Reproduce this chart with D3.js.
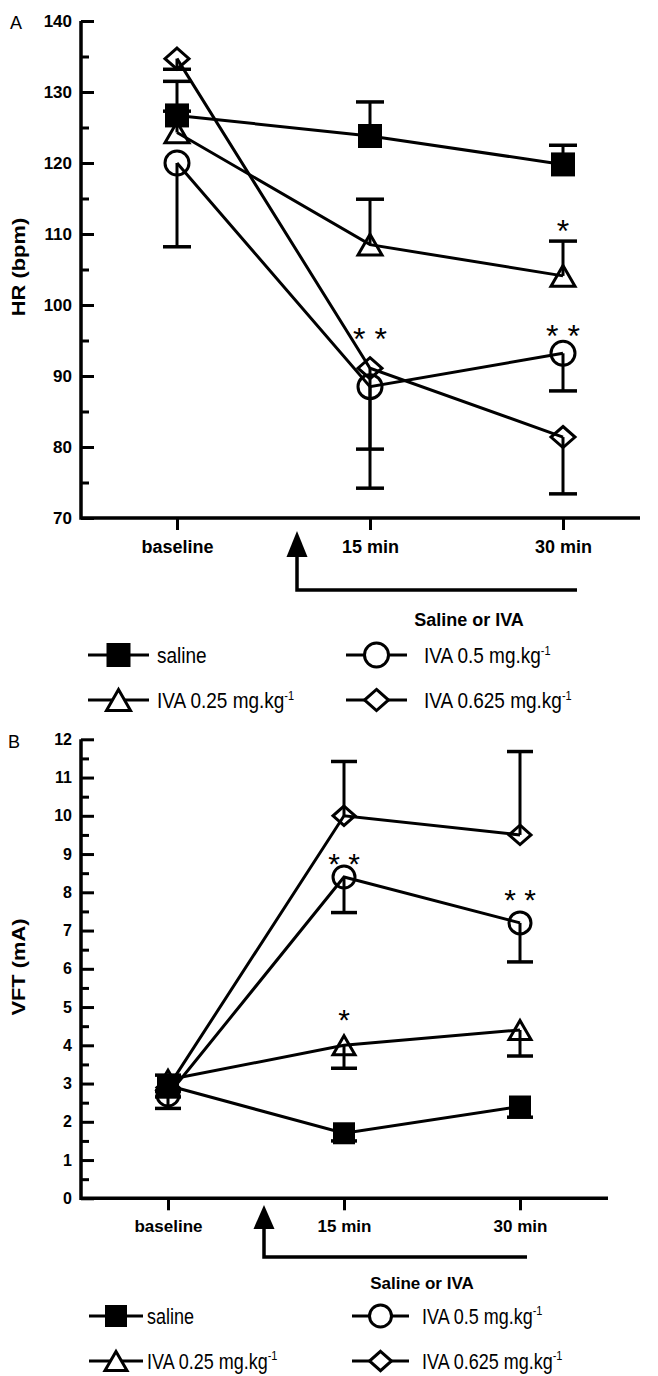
<!DOCTYPE html>
<html>
<head>
<meta charset="utf-8">
<script src="https://cdn.jsdelivr.net/npm/d3@7"></script>
<style>
  body { margin: 0; background: #fff; }
  svg text { font-family: "Liberation Sans", Arial, sans-serif; fill: #000; }
</style>
</head>
<body>
<div id="chart"></div>
<script>
const categories = ["baseline", "15 min", "30 min"];
const seriesNames = ["saline", "IVA 0.25 mg.kg", "IVA 0.5 mg.kg", "IVA 0.625 mg.kg"];

// A: heart rate (bpm)
const hrTicks = [70, 80, 90, 100, 110, 120, 130, 140];
const hrSaline = [126.7, 123.8, 119.8];
const hrSalineErr = [4.8, 4.8, 2.7];
const hrIva025 = [124.3, 108.5, 104.1];
const hrIva025Err = [3.0, 6.4, 4.9];
const hrIva05 = [120.0, 88.5, 93.2];
const hrIva05Err = [11.8, 8.8, 5.3];
const hrIva0625 = [134.7, 91.1, 81.4];
const hrIva0625Err = [1.5, 16.9, 8.0];
const hrStars = [["15 min", 96.1, "* *"], ["30 min", 96.6, "* *"], ["30 min", 111.4, "*"]];

// B: VFT (mA)
const vftTicks = [0, 1, 2, 3, 4, 5, 6, 7, 8, 9, 10, 11, 12];
const vftSaline = [2.95, 1.7, 2.4];
const vftSalineErr = [0.3, 0.2, 0.28];
const vftIva025 = [3.1, 4.0, 4.4];
const vftIva025Err = [0.3, 0.6, 0.68];
const vftIva05 = [2.7, 8.4, 7.2];
const vftIva05Err = [0.35, 0.93, 1.02];
const vftIva0625 = [2.9, 10.0, 9.5];
const vftIva0625Err = [0.32, 1.42, 2.18];
const vftStars = [["15 min", 8.91, "* *"], ["30 min", 7.97, "* *"], ["15 min", 4.84, "*"]];

// marker shapes, size = full width squared
const shapeSquare = { draw(c, s) { const h = Math.sqrt(s) / 2; c.rect(-h, -h, 2 * h, 2 * h); } };
const shapeCircle = { draw(c, s) { const r = Math.sqrt(s) / 2; c.moveTo(r, 0); c.arc(0, 0, r, 0, 2 * Math.PI); } };
const shapeTriangle = { draw(c, s) {
  const a = Math.sqrt(s), h = a * Math.sqrt(3) / 2;
  c.moveTo(0, -h / 2); c.lineTo(a / 2, h / 2); c.lineTo(-a / 2, h / 2); c.closePath();
} };
const shapeDiamond = { draw(c, s) {
  const w = Math.sqrt(s) / 2, h = w * 0.88;
  c.moveTo(0, -h); c.lineTo(w, 0); c.lineTo(0, h); c.lineTo(-w, 0); c.closePath();
} };
const shapes = [shapeSquare, shapeTriangle, shapeCircle, shapeDiamond];
const filled = [true, false, false, false];

const svg = d3.select("#chart").append("svg")
  .attr("width", 658).attr("height", 1376);

const panels = [
  {
    label: "A", title: "HR (bpm)", ticks: hrTicks,
    values: [hrSaline, hrIva025, hrIva05, hrIva0625],
    errors: [hrSalineErr, hrIva025Err, hrIva05Err, hrIva0625Err],
    errDir: [1, 1, -1, -1], stars: hrStars,
    yRange: [518, 21], xRange: [177, 563], axisX: 81, axisEnd: 640,
    tickFont: 17, catFont: 18, capW: 28, mark: 24, starFont: 32,
    arrowX: 297, arrowTop: 531, headH: 26, arrowBottom: 590, arrowEnd: 577,
    noteX: 469, noteY: 626, noteFont: 18,
    legendRows: [655, 700], legendCols: [[88, 149, 157], [346, 407, 424]], legendFont: 19,
    titleX: 19, titleY: 267, labelX: 10, labelY: 29
  },
  {
    label: "B", title: "VFT (mA)", ticks: vftTicks,
    values: [vftSaline, vftIva025, vftIva05, vftIva0625],
    errors: [vftSalineErr, vftIva025Err, vftIva05Err, vftIva0625Err],
    errDir: [-1, -1, -1, 1], stars: vftStars,
    yRange: [1198.3, 739.3], xRange: [168, 520], axisX: 81, axisEnd: 608,
    tickFont: 16, catFont: 17, capW: 26, mark: 22, starFont: 30,
    arrowX: 264, arrowTop: 1205, headH: 24, arrowBottom: 1257, arrowEnd: 527,
    noteX: 422, noteY: 1289, noteFont: 17,
    legendRows: [1316, 1361], legendCols: [[89, 143, 147], [352, 409, 422]], legendFont: 18,
    titleX: 19, titleY: 967, labelX: 8, labelY: 748
  }
];

function drawPanel(p) {
  const g = svg.append("g");
  const x = d3.scalePoint().domain(categories).range(p.xRange);
  const y = d3.scaleLinear().domain(d3.extent(p.ticks)).range(p.yRange);
  const minor = d3.pairs(p.ticks).map(([a, b]) => (a + b) / 2);

  // y axis: minor ticks then major
  g.append("g").attr("transform", `translate(${p.axisX},0)`)
    .call(d3.axisLeft(y).tickValues(minor).tickSize(-8).tickFormat(""))
    .call(a => a.select(".domain").remove())
    .selectAll("line").attr("stroke-width", 3);
  g.append("g").attr("transform", `translate(${p.axisX},0)`)
    .call(d3.axisLeft(y).tickValues(p.ticks).tickSize(-13).tickPadding(9).tickFormat(d3.format("d")))
    .call(a => a.select(".domain").remove())
    .attr("font-family", "Liberation Sans, Arial, sans-serif")
    .attr("font-size", p.tickFont).attr("font-weight", "bold")
    .selectAll("line").attr("stroke-width", 3);

  // x axis
  g.append("g").attr("transform", `translate(0,${y(p.ticks[0])})`)
    .call(d3.axisBottom(x).tickSize(12).tickPadding(10))
    .call(a => a.select(".domain").remove())
    .attr("font-family", "Liberation Sans, Arial, sans-serif")
    .attr("font-size", p.catFont).attr("font-weight", "bold")
    .selectAll("line").attr("stroke-width", 3);

  g.append("path")
    .attr("d", `M${p.axisX},${y(p.ticks[p.ticks.length - 1])}V${y(p.ticks[0])}H${p.axisEnd}`)
    .attr("fill", "none").attr("stroke", "#000").attr("stroke-width", 3.5);

  // axis title (stretched along its length like the original) and panel letter
  g.append("text")
    .attr("transform", `translate(${p.titleX},${p.titleY}) rotate(-90) scale(1.25,1)`)
    .attr("text-anchor", "middle").attr("dy", "0.35em")
    .attr("font-size", 17.5).attr("font-weight", "bold")
    .text(p.title);
  g.append("text").attr("x", p.labelX).attr("y", p.labelY)
    .attr("font-size", 18).text(p.label);

  // series lines
  const line = d3.line().x((d, i) => x(categories[i])).y(d => y(d));
  g.selectAll(".series").data(p.values).join("path")
    .attr("d", line).attr("fill", "none")
    .attr("stroke", "#000").attr("stroke-width", 3);

  // error bars
  p.values.forEach((vals, s) => {
    const eb = g.append("g").attr("stroke", "#000");
    vals.forEach((v, i) => {
      const cx = x(categories[i]);
      const yEnd = y(v + p.errDir[s] * p.errors[s][i]);
      eb.append("line").attr("x1", cx).attr("x2", cx)
        .attr("y1", y(v)).attr("y2", yEnd).attr("stroke-width", 3);
      eb.append("line").attr("x1", cx - p.capW / 2).attr("x2", cx + p.capW / 2)
        .attr("y1", yEnd).attr("y2", yEnd).attr("stroke-width", 3.5);
    });
  });

  // markers
  p.values.forEach((vals, s) => {
    const sym = d3.symbol().type(shapes[s]).size(p.mark * p.mark);
    g.selectAll(null).data(vals).join("path")
      .attr("transform", (d, i) => `translate(${x(categories[i])},${y(d)})`)
      .attr("d", sym)
      .attr("fill", filled[s] ? "#000" : "none")
      .attr("stroke", filled[s] ? "none" : "#000")
      .attr("stroke-width", 3);
  });

  // significance stars
  g.selectAll(null).data(p.stars).join("text")
    .attr("x", d => x(d[0])).attr("y", d => y(d[1]))
    .attr("dy", "0.55em").attr("text-anchor", "middle")
    .attr("font-size", p.starFont).text(d => d[2]);

  // treatment arrow
  const hw = 10.5;
  g.append("path")
    .attr("d", `M${p.arrowX},${p.arrowTop}L${p.arrowX + hw},${p.arrowTop + p.headH}L${p.arrowX - hw},${p.arrowTop + p.headH}Z`)
    .attr("fill", "#000");
  g.append("path")
    .attr("d", `M${p.arrowX},${p.arrowTop + p.headH - 1}V${p.arrowBottom}H${p.arrowEnd}`)
    .attr("fill", "none").attr("stroke", "#000").attr("stroke-width", 3.5);
  g.append("text").attr("x", p.noteX).attr("y", p.noteY)
    .attr("text-anchor", "middle").attr("font-size", p.noteFont).attr("font-weight", "bold")
    .text("Saline or IVA");

  // legend: row 1 saline / IVA 0.5, row 2 IVA 0.25 / IVA 0.625
  const slots = [[0, 0, 0], [1, 1, 0], [2, 0, 1], [3, 1, 1]];
  slots.forEach(([s, row, col]) => {
    const [x1, x2, tx] = p.legendCols[col];
    const ly = p.legendRows[row];
    const lg = g.append("g");
    lg.append("line").attr("x1", x1).attr("x2", x2).attr("y1", ly).attr("y2", ly)
      .attr("stroke", "#000").attr("stroke-width", 3);
    lg.append("path")
      .attr("transform", `translate(${(x1 + x2) / 2},${ly})`)
      .attr("d", d3.symbol().type(shapes[s]).size(p.mark * p.mark))
      .attr("fill", filled[s] ? "#000" : "#fff")
      .attr("stroke", filled[s] ? "none" : "#000").attr("stroke-width", 3);
    // the original legend text is drawn taller than it is wide
    const t = lg.append("text")
      .attr("transform", `translate(${tx},${ly}) scale(1,1.2)`)
      .attr("dy", "0.35em").attr("font-size", p.legendFont);
    t.append("tspan").text(seriesNames[s]);
    if (s > 0) t.append("tspan").attr("dy", -7).attr("font-size", 11).text("-1");
  });
}

panels.forEach(drawPanel);
</script>
</body>
</html>
